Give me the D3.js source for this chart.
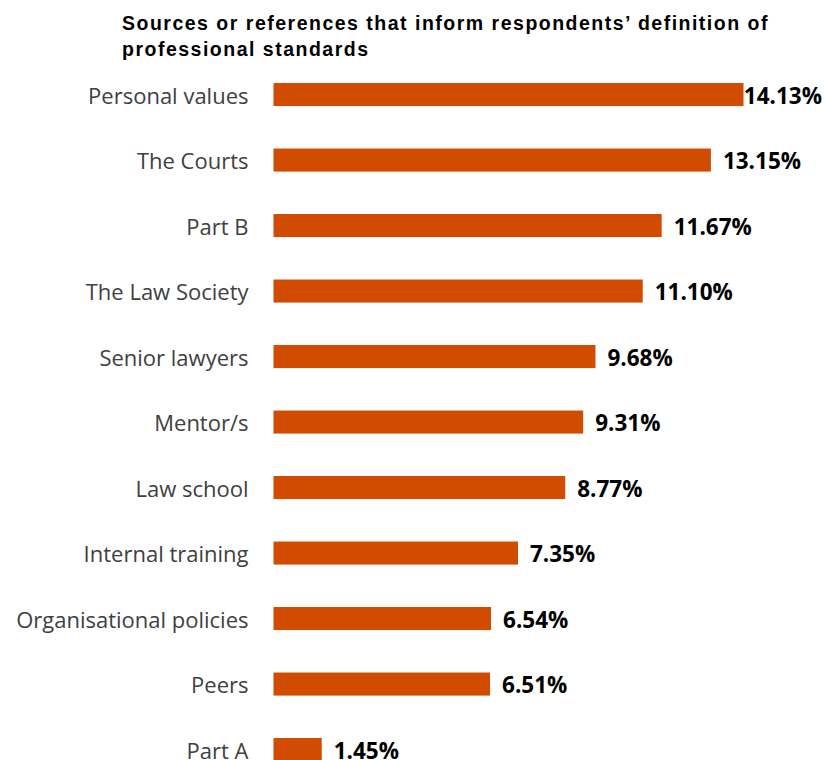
<!DOCTYPE html>
<html><head><meta charset="utf-8">
<script src="https://cdn.jsdelivr.net/npm/d3@7"></script>
<style>body{margin:0;background:#fff}</style>
</head><body>
<svg id="chart" width="825" height="760"></svg>
<script>
const categories = ["Personal values","The Courts","Part B","The Law Society","Senior lawyers","Mentor/s","Law school","Internal training","Organisational policies","Peers","Part A"];
const values = [14.13,13.15,11.67,11.10,9.68,9.31,8.77,7.35,6.54,6.51,1.45];
const titleLines = ["Sources or references that inform respondents’ definition of","professional standards"];

const W = 825, H = 760;
const svg = d3.select("#chart");
const left = 273.5;
const x = d3.scaleLinear().domain([0, 14.13]).range([left, 743.5]);
const y = d3.scaleBand().domain(categories).range([61.8, 782.3]).paddingInner(0.648).paddingOuter(0.324);

svg.append("text").attr("x",122).attr("y",30)
  .attr("font-family","'Liberation Sans', Arial, sans-serif").attr("font-weight","bold").attr("font-size",19.5)
  .attr("letter-spacing",1.5).attr("fill","#000")
  .selectAll("tspan").data(titleLines).join("tspan").attr("x",122).attr("dy",(d,i)=>i?26:0).text(d=>d);

svg.selectAll("rect.bar").data(values).join("rect").attr("class","bar")
  .attr("x",x(0)).attr("y",(d,i)=>y(categories[i])).attr("width",d=>x(d)-x(0)).attr("height",y.bandwidth())
  .attr("fill","#D14B00");

const yAxis = d3.axisLeft(y).tickSize(0).tickPadding(25);
const g = svg.append("g").attr("transform",`translate(${left},0)`).call(yAxis);
g.select(".domain").remove();
g.selectAll("text").attr("font-family","'Open Sans', sans-serif").attr("font-size",22).attr("fill","#404040").attr("dy","0.42em");

svg.selectAll("text.val").data(values).join("text").attr("class","val")
  .attr("y",(d,i)=>y(categories[i])+y.bandwidth()/2).attr("dy","0.41em")
  .attr("font-family","'Open Sans', sans-serif").attr("font-weight","bold").attr("font-size",22.5).attr("fill","#000")
  .text(d=>d.toFixed(2)+"%")
  .attr("x",function(d){const w=this.getComputedTextLength(); return Math.min(x(d)+12, W-3-w);});
</script>
</body></html>
